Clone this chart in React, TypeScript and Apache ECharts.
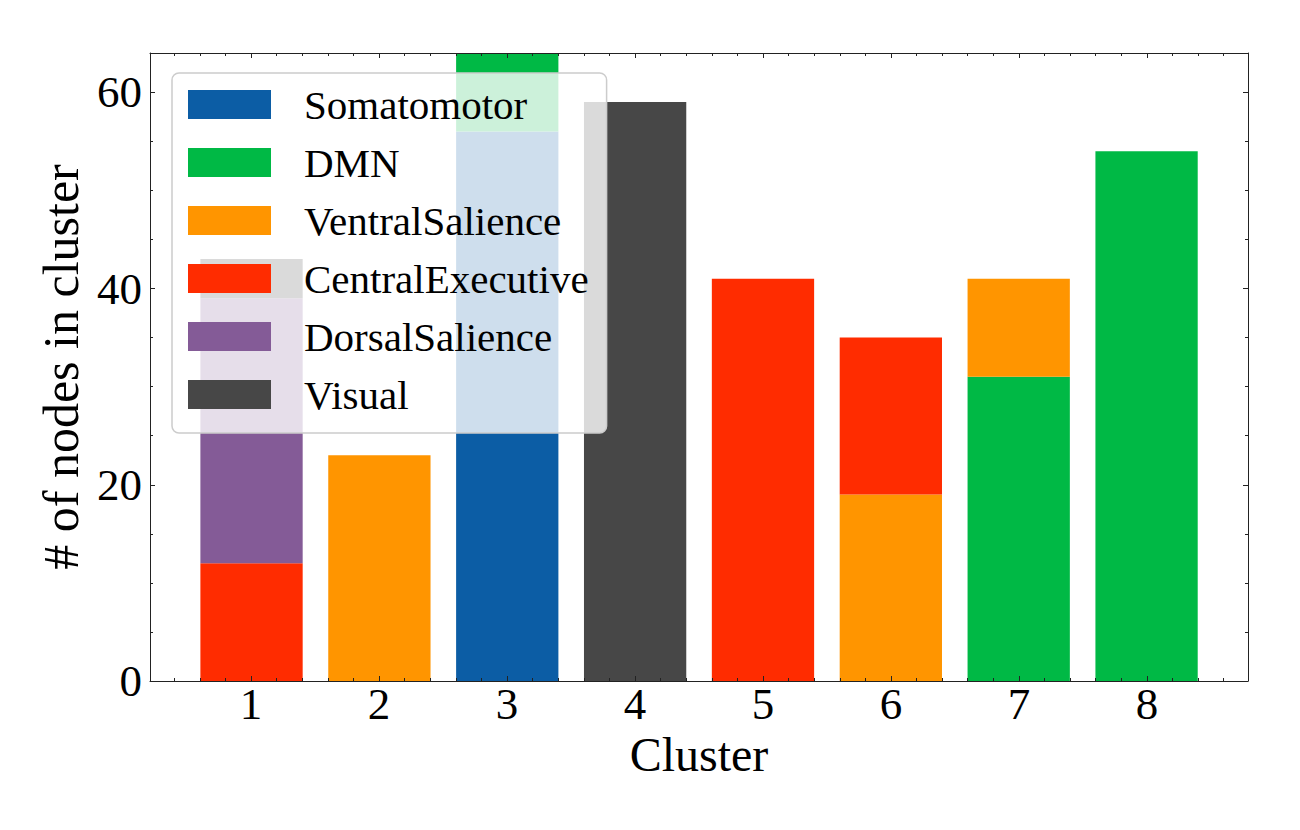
import React, { useEffect, useRef } from "react";
import * as echarts from "echarts";

// ---- data ----
const clusters = ["1", "2", "3", "4", "5", "6", "7", "8"];
const networkNames = [
  "Somatomotor",
  "DMN",
  "VentralSalience",
  "CentralExecutive",
  "DorsalSalience",
  "Visual",
];
const somatomotor = [0, 0, 56, 0, 0, 0, 0, 0];
const dmn = [0, 0, 8, 0, 0, 0, 31, 54];
const ventralSalience = [0, 23, 0, 0, 0, 19, 10, 0];
const centralExecutive = [12, 0, 0, 0, 41, 16, 0, 0];
const dorsalSalience = [27, 0, 0, 0, 0, 0, 0, 0];
const visual = [4, 0, 0, 59, 0, 0, 0, 0];
const networkColors = ["#0C5DA5", "#00B945", "#FF9500", "#FF2C00", "#845B97", "#474747"];

const xMajorTicks = [1, 2, 3, 4, 5, 6, 7, 8];
const xMinorTicks = [
  0.4, 0.6, 0.8, 1.2, 1.4, 1.6, 1.8, 2.2, 2.4, 2.6, 2.8, 3.2, 3.4, 3.6, 3.8,
  4.2, 4.4, 4.6, 4.8, 5.2, 5.4, 5.6, 5.8, 6.2, 6.4, 6.6, 6.8, 7.2, 7.4, 7.6,
  7.8, 8.2, 8.4, 8.6,
];
const yMajorTicks = [0, 20, 40, 60];
const yMinorTicks = [5, 10, 15, 25, 30, 35, 45, 50, 55];

const FONT = "'Liberation Serif', 'Times New Roman', serif";
const AXIS_COLOR = "#222222";

export default function App() {
  const ref = useRef<HTMLDivElement>(null);

  useEffect(() => {
    document.body.style.margin = "0";
    if (!ref.current) return;
    const chart = echarts.init(ref.current, null, { renderer: "svg" });

    const seriesValues = [somatomotor, dmn, ventralSalience, centralExecutive, dorsalSalience, visual];

    const X_MIN = 0.21;
    const X_MAX = 8.79;
    const Y_MIN = 0;
    const Y_MAX = 64;

    const frameX = (position: string, ticks: number[], len: number, main: boolean, labels: boolean) => ({
      type: "value",
      gridIndex: 1,
      position,
      offset: 0,
      min: X_MIN,
      max: X_MAX,
      z: 5,
      name: labels ? "Cluster" : "",
      nameLocation: "middle",
      nameGap: 39,
      nameTextStyle: { fontFamily: FONT, fontSize: 48, color: "#000" },
      axisLine: { show: main, onZero: false, lineStyle: { color: AXIS_COLOR, width: 1 } },
      axisTick: {
        show: true,
        inside: true,
        length: len,
        customValues: ticks,
        lineStyle: { color: AXIS_COLOR, width: 1 },
      },
      axisLabel: labels
        ? {
            show: true,
            customValues: xMajorTicks,
            margin: 0,
            fontFamily: FONT,
            fontSize: 45,
            color: "#000",
          }
        : { show: false },
      splitLine: { show: false },
    });

    const frameY = (position: string, ticks: number[], len: number, main: boolean, labels: boolean) => ({
      type: "value",
      gridIndex: 1,
      position,
      offset: 0,
      min: Y_MIN,
      max: Y_MAX,
      z: 5,
      name: labels ? "# of nodes in cluster" : "",
      nameLocation: "middle",
      nameGap: 47,
      nameTextStyle: { fontFamily: FONT, fontSize: 50, color: "#000" },
      axisLine: { show: main, onZero: false, lineStyle: { color: AXIS_COLOR, width: 1 } },
      axisTick: {
        show: true,
        inside: true,
        length: len,
        customValues: ticks,
        lineStyle: { color: AXIS_COLOR, width: 1 },
      },
      axisLabel: labels
        ? {
            show: true,
            customValues: yMajorTicks,
            margin: 8,
            fontFamily: FONT,
            fontSize: 45,
            color: "#000",
          }
        : { show: false },
      splitLine: { show: false },
    });

    const option: any = {
      animation: false,
      backgroundColor: "#ffffff",
      textStyle: { fontFamily: FONT },
      grid: [
        // grid for bars: category bands of 1 unit each
        { left: 187.6, right: 89.5, top: 53, bottom: 149, containLabel: false },
        // frame grid: x range 0.21..8.79
        { left: 150, right: 52, top: 53, bottom: 149, containLabel: false },
      ],
      legend: {
        show: true,
        data: networkNames,
        orient: "vertical",
        left: 172,
        top: 73,
        padding: [11, 18, 18, 16],
        itemGap: 17,
        itemWidth: 83,
        itemHeight: 29,
        icon: "rect",
        selectedMode: false,
        backgroundColor: "rgba(255,255,255,0.8)",
        borderColor: "#cccccc",
        borderWidth: 1.5,
        borderRadius: 7,
        z: 4,
        textStyle: {
          fontFamily: FONT,
          fontSize: 41,
          color: "#000",
          padding: [0, 0, 0, 28],
        },
      },
      xAxis: [
        {
          type: "category",
          gridIndex: 0,
          data: clusters,
          show: false,
          boundaryGap: true,
        },
        frameX("bottom", xMajorTicks, 5, true, true),
        frameX("bottom", xMinorTicks, 3, false, false),
        frameX("top", xMajorTicks, 5, true, false),
        frameX("top", xMinorTicks, 3, false, false),
      ],
      yAxis: [
        { type: "value", gridIndex: 0, min: Y_MIN, max: Y_MAX, show: false },
        frameY("left", yMajorTicks, 5, true, true),
        frameY("left", yMinorTicks, 3, false, false),
        frameY("right", yMajorTicks, 5, true, false),
        frameY("right", yMinorTicks, 3, false, false),
      ],
      series: networkNames.map((name, i) => ({
        name,
        type: "bar",
        stack: "total",
        xAxisIndex: 0,
        yAxisIndex: 0,
        barWidth: "80%",
        data: seriesValues[i],
        itemStyle: { color: networkColors[i] },
        emphasis: { disabled: true },
        z: 2,
      })),
    };

    chart.setOption(option);
    return () => chart.dispose();
  }, []);

  return <div ref={ref} style={{ width: 1300, height: 830 }} />;
}
